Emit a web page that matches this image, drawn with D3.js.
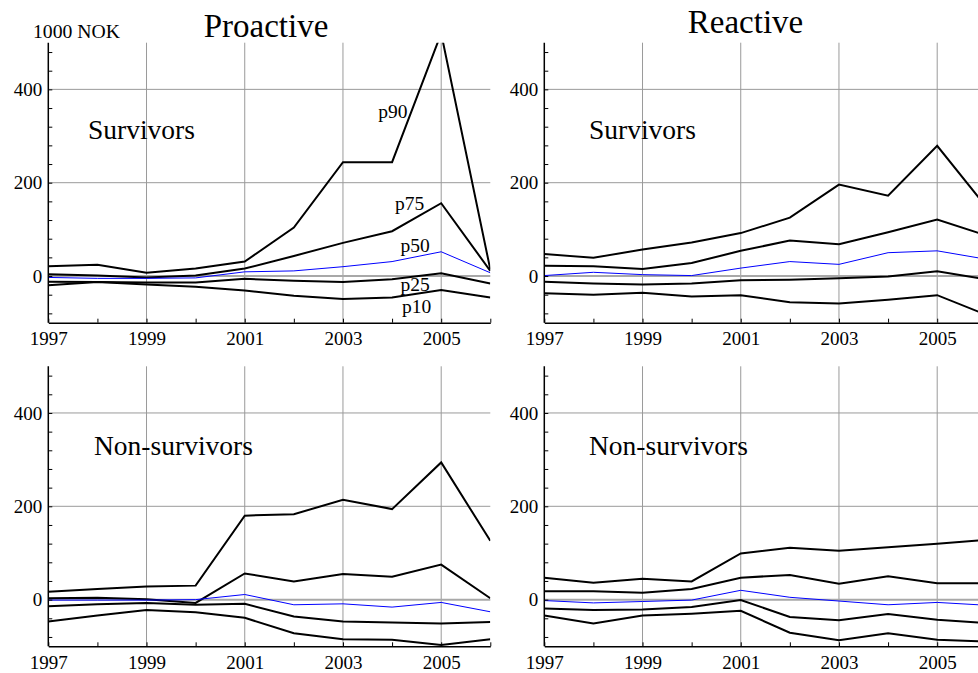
<!DOCTYPE html>
<html>
<head>
<meta charset="utf-8">
<script src="https://cdn.jsdelivr.net/npm/d3@7"></script>
<style>
  html, body { margin: 0; padding: 0; background: #fff; }
  svg { display: block; font-family: "Liberation Serif", "Times New Roman", serif; }
</style>
</head>
<body>
<svg id="chart" width="978" height="673"></svg>
<script>
// Years on the x axis
const years = [1997, 1998, 1999, 2000, 2001, 2002, 2003, 2004, 2005, 2006];
// Percentile series, drawn in this order
const percentiles = ["p90", "p75", "p50", "p25", "p10"];
const yTicks = [-80, -40, 0, 40, 80, 120, 160, 200, 240, 280, 320, 360, 400, 440, 480];
const yGrid = [0, 200, 400];
const xGrid = [1999, 2001, 2003, 2005];

// Change in 1000 NOK, one row per percentile (p90, p75, p50, p25, p10)
const proactiveSurvivors = [
  [21, 24, 7, 16, 31, 104, 244, 244, 520, 14],
  [4, 1, -3, 1, 16, 43, 71, 96, 156, 11],
  [-3, -5, -5, -4, 9, 11, 20, 31, 52, 7],
  [-12, -13, -14, -14, -6, -10, -13, -7, 6, -16],
  [-20, -13, -18, -23, -31, -42, -49, -46, -30, -46]
];
const reactiveSurvivors = [
  [47, 39, 57, 72, 92, 125, 196, 172, 279, 148],
  [22, 21, 15, 28, 54, 76, 68, 94, 121, 87],
  [1, 8, 3, 1, 17, 31, 25, 50, 54, 36],
  [-12, -16, -18, -16, -9, -8, -5, -1, 10, -7],
  [-37, -40, -36, -44, -41, -56, -59, -51, -41, -83]
];
const proactiveNonSurvivors = [
  [17, 23, 28, 30, 180, 183, 214, 194, 294, 126],
  [3, 4, 1, -7, 56, 39, 55, 49, 75, 3],
  [-1, -1, -1, 0, 11, -11, -9, -16, -6, -26],
  [-14, -10, -7, -11, -9, -36, -47, -49, -51, -48],
  [-47, -34, -22, -27, -39, -72, -85, -86, -97, -85]
];
const reactiveNonSurvivors = [
  [47, 36, 45, 39, 99, 111, 105, 112, 120, 128],
  [18, 18, 15, 23, 47, 53, 34, 50, 35, 35],
  [-2, -7, -4, -1, 20, 5, -3, -11, -6, -12],
  [-19, -22, -21, -16, -1, -37, -44, -31, -43, -50],
  [-34, -51, -34, -30, -24, -71, -87, -72, -86, -90]
];

const svg = d3.select("#chart");

const PW = 442, PH = 280;
const panels = [
  { data: proactiveSurvivors, group: "Survivors", x0: 48.3, top: 42.7, gx: 88, gy: 139, pctLabels: true },
  { data: reactiveSurvivors, group: "Survivors", x0: 544.3, top: 42.7, gx: 589, gy: 138.5 },
  { data: proactiveNonSurvivors, group: "Non-survivors", x0: 48.3, top: 366.3, gx: 94, gy: 455 },
  { data: reactiveNonSurvivors, group: "Non-survivors", x0: 544.3, top: 366.3, gx: 589, gy: 455 }
];

// Column titles and unit label
svg.append("text").attr("x", 266).attr("y", 36.5).attr("text-anchor", "middle")
  .attr("font-size", 33).text("Proactive");
svg.append("text").attr("x", 745.5).attr("y", 32.5).attr("text-anchor", "middle")
  .attr("font-size", 33).text("Reactive");
svg.append("text").attr("x", 33).attr("y", 37.5).attr("font-size", 19)
  .attr("textLength", 87).attr("lengthAdjust", "spacingAndGlyphs").text("1000 NOK");

// Anchors (year, value) for the percentile tags in the first panel
const tagAnchors = [[2003.72, 339], [2004.06, 141], [2004.17, 52], [2004.17, -33], [2004.2, -80]];

panels.forEach((p, i) => {
  const x = d3.scaleLinear().domain([1997, 2006]).range([p.x0, p.x0 + PW]);
  const y = d3.scaleLinear().domain([-100, 500]).range([p.top + PH, p.top]);
  const g = svg.append("g");

  const clipId = "clip" + i;
  g.append("clipPath").attr("id", clipId).append("rect")
    .attr("x", p.x0).attr("y", p.top).attr("width", PW).attr("height", PH);

  // Grid lines
  g.selectAll(".vg").data(xGrid).join("line")
    .attr("x1", d => x(d)).attr("x2", d => x(d))
    .attr("y1", y(-100)).attr("y2", y(500))
    .attr("stroke", "#9a9a9a").attr("stroke-width", 1);
  g.selectAll(".hg").data(yGrid).join("line")
    .attr("x1", x(1997)).attr("x2", x(2006))
    .attr("y1", d => y(d)).attr("y2", d => y(d))
    .attr("stroke", d => d === 0 ? "#a8a8a8" : "#9a9a9a")
    .attr("stroke-width", d => d === 0 ? 2 : 1);

  // Percentile lines
  const line = d3.line().x((d, j) => x(years[j])).y(d => y(d));
  g.append("g").attr("clip-path", `url(#${clipId})`)
    .selectAll("path").data(p.data).join("path")
    .attr("d", line)
    .attr("fill", "none")
    .attr("stroke", (d, k) => percentiles[k] === "p50" ? "#0000ff" : "#000")
    .attr("stroke-width", (d, k) => percentiles[k] === "p50" ? 1 : 2)
    .attr("stroke-linejoin", "miter");

  // Axes
  const yAxis = d3.axisLeft(y).tickValues(yTicks).tickSize(-4).tickSizeOuter(0)
    .tickPadding(6).tickFormat(d => d % 200 === 0 ? d : "");
  const ya = g.append("g").attr("transform", `translate(${p.x0},0)`).call(yAxis);
  const xAxis = d3.axisBottom(x).tickValues(years).tickSize(-4).tickSizeOuter(0)
    .tickPadding(9).tickFormat(d => d % 2 ? d : "");
  const xa = g.append("g").attr("transform", `translate(0,${p.top + PH})`).call(xAxis);
  [ya, xa].forEach(a => {
    a.attr("font-family", null).attr("font-size", 19);
    a.select(".domain").attr("stroke", "#000").attr("stroke-width", 1.5);
    a.selectAll(".tick line").attr("stroke", "#000").attr("stroke-width", 1);
    a.selectAll(".tick text").attr("fill", "#000");
  });
  // keep the y axis line across the full plot height
  ya.select(".domain").attr("d", `M0,${y(-100)}V${y(500)}`);

  // Group label
  g.append("text").attr("x", p.gx).attr("y", p.gy).attr("font-size", 27.5).text(p.group);

  if (p.pctLabels) {
    g.selectAll(".pct").data(percentiles).join("text")
      .attr("x", (d, k) => x(tagAnchors[k][0]))
      .attr("y", (d, k) => y(tagAnchors[k][1]))
      .attr("font-size", 19.5)
      .text(d => d);
  }
});
</script>
</body>
</html>
